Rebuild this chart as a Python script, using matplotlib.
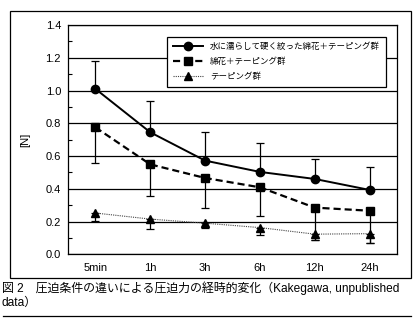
import numpy as np
import matplotlib
matplotlib.use("Agg")
import matplotlib.pyplot as plt
from matplotlib.patches import Rectangle
from matplotlib.lines import Line2D

plt.rcParams['font.family'] = ['Liberation Sans', 'Noto Sans CJK JP', 'DejaVu Sans']

# データ
times = ["5min", "1h", "3h", "6h", "12h", "24h"]
labels = ["水に濡らして硬く絞った綿花＋テーピング群", "綿花＋テーピング群", "テーピング群"]

wet_mean = [1.01, 0.745, 0.572, 0.503, 0.46, 0.393]
wet_err = [0.17, 0.19, 0.175, 0.175, 0.12, 0.14]

cotton_mean = [0.775, 0.549, 0.466, 0.409, 0.285, 0.266]
cotton_err = [0.22, 0.19, 0.185, 0.177, 0.2, 0.2]

tape_mean = [0.252, 0.215, 0.19, 0.163, 0.123, 0.126]
tape_err = [0.05, 0.06, 0.03, 0.047, 0.035, 0.06]

caption1 = "図 2　圧迫条件の違いによる圧迫力の経時的変化（Kakegawa, unpublished"
caption2 = "data）"

W, H = 420, 333
fig = plt.figure(figsize=(W / 100, H / 100), dpi=100)
ax = fig.add_axes([68 / W, 1 - 254.3 / H, 329 / W, 229.3 / H])

x = np.arange(len(times))
zero = np.zeros(len(times))

# 誤差棒（○は上側のみ、■▲は下側のみ）
ax.errorbar(x, wet_mean, yerr=[zero, wet_err], fmt='none', ecolor='black',
            elinewidth=0.9, capsize=2.6, capthick=0.9, zorder=3)
ax.errorbar(x, cotton_mean, yerr=[cotton_err, zero], fmt='none', ecolor='black',
            elinewidth=0.9, capsize=2.6, capthick=0.9, zorder=3)
ax.errorbar(x, tape_mean, yerr=[tape_err, zero], fmt='none', ecolor='black',
            elinewidth=0.9, capsize=2.6, capthick=0.9, zorder=3)

ax.plot(x, wet_mean, color='black', lw=1.4, marker='o', ms=6, zorder=4)
ax.plot(x, cotton_mean, color='black', lw=1.6, dashes=(3.2, 1.8), marker='s', ms=5.8, zorder=4)
ax.plot(x, tape_mean, color='#444444', lw=0.8, dashes=(1, 1), marker='^', ms=6,
        mfc='black', mec='black', zorder=4)

ax.set_xlim(-0.5, len(times) - 0.5)
ax.set_ylim(0, 1.4)
ax.set_xticks(x)
ax.set_xticklabels(times)
ax.set_yticks(np.arange(0, 1.41, 0.2))
ax.set_yticklabels([f"{v:.1f}" for v in np.arange(0, 1.41, 0.2)])
ax.set_yticks(np.arange(0.1, 1.4, 0.2), minor=True)
ax.tick_params(axis='x', length=0, pad=6, labelsize=8)
ax.tick_params(axis='y', which='major', length=0, pad=5, labelsize=8)
ax.tick_params(axis='y', which='minor', direction='in', length=3, width=0.8)
ax.yaxis.grid(True, color='black', lw=0.9)
ax.set_axisbelow(True)
for s in ax.spines.values():
    s.set_linewidth(0.9)
ax.set_ylabel("[N]", fontsize=8, labelpad=11)

handles = [
    Line2D([], [], color='black', lw=1.4, marker='o', ms=6),
    Line2D([], [], color='black', lw=1.6, dashes=(3.2, 1.8), marker='s', ms=5.8),
    Line2D([], [], color='#444444', lw=0.8, dashes=(1, 1), marker='^', ms=6, mfc='black', mec='black'),
]
leg = fig.legend(handles, labels, loc='upper right', bbox_to_anchor=(390 / W, 1 - 32.3 / H),
                 fontsize=6.1, handlelength=3.6, handletextpad=0.8, labelspacing=0.75,
                 borderpad=0.7, fancybox=False, framealpha=1, edgecolor='black')
leg.get_frame().set_linewidth(0.9)
leg.set_zorder(5)

# 外枠
fig.patches.append(Rectangle((10 / W, 1 - 278.3 / H), 401 / W, 267.3 / H, transform=fig.transFigure,
                             fill=False, edgecolor='black', lw=0.9))

# キャプション
fig.text(2 / W, 1 - 288.3 / H, caption1, fontsize=8.6, va='center', ha='left')
fig.text(2 / W, 1 - 302.5 / H, caption2, fontsize=8.6, va='center', ha='left')
fig.add_artist(Line2D([3 / W, 411 / W], [1 - 315.7 / H] * 2, color='black', lw=0.9))

fig.savefig("out.png", dpi=100)
